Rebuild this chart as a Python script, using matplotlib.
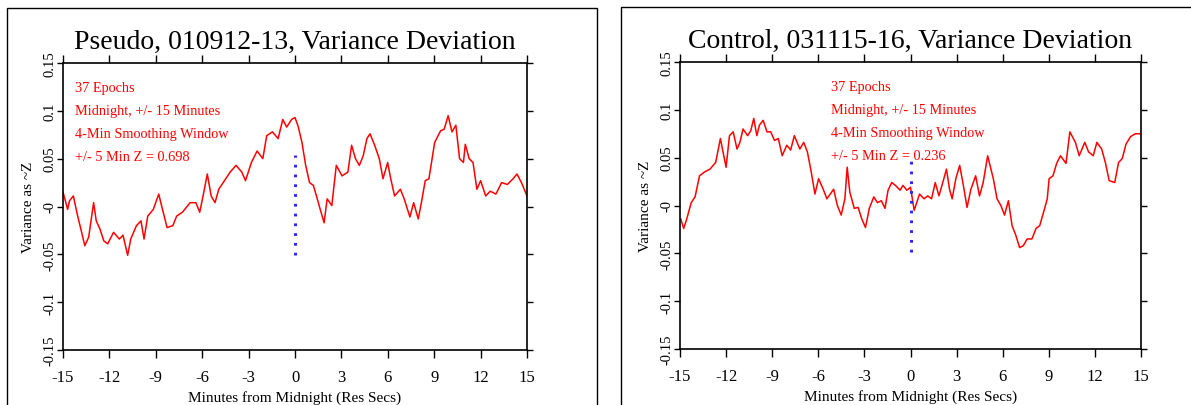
import matplotlib
matplotlib.use("Agg")
import matplotlib.pyplot as plt
from matplotlib.patches import Rectangle

plt.rcParams['font.family'] = ['Liberation Serif', 'DejaVu Serif']

# minutes from midnight / variance as ~Z
pseudo_x = [-15.0, -14.7, -14.58, -14.33, -14.08, -13.84, -13.59, -13.34, -13.02, -12.85,
            -12.6, -12.36, -12.11, -11.73, -11.36, -11.12, -10.82, -10.62, -10.25, -9.96,
            -9.76, -9.52, -9.16, -8.81, -8.57, -8.27, -7.9, -7.65, -7.28, -6.78,
            -6.41, -6.16, -5.92, -5.67, -5.42, -5.17, -4.93, -4.56, -4.19, -3.81,
            -3.44, -3.2, -2.82, -2.45, -2.08, -1.83, -1.46, -1.09, -0.79, -0.54,
            -0.22, 0.0, 0.2, 0.45, 0.69, 0.94, 1.19, 1.44, 1.63, 1.88,
            2.08, 2.38, 2.67, 3.04, 3.42, 3.66, 3.91, 4.16, 4.41, 4.65,
            4.85, 5.15, 5.45, 5.69, 5.99, 6.19, 6.44, 6.81, 7.06, 7.43,
            7.67, 7.97, 8.17, 8.42, 8.66, 9.03, 9.41, 9.65, 9.9, 10.15,
            10.4, 10.64, 10.89, 11.01, 11.26, 11.51, 11.76, 12.0, 12.33, 12.62,
            12.99, 13.36, 13.73, 14.1, 14.35, 14.67, 15.0]
pseudo_y = [0.015, -0.003, 0.006, 0.011, -0.008, -0.024, -0.041, -0.032, 0.004, -0.015,
            -0.024, -0.036, -0.039, -0.027, -0.034, -0.030, -0.051, -0.034, -0.020, -0.015,
            -0.034, -0.010, -0.003, 0.013, -0.003, -0.022, -0.020, -0.010, -0.006, 0.004,
            0.004, -0.006, 0.013, 0.034, 0.011, 0.004, 0.018, 0.027, 0.036, 0.043,
            0.036, 0.027, 0.046, 0.058, 0.050, 0.074, 0.078, 0.071, 0.091, 0.083,
            0.091, 0.093, 0.084, 0.067, 0.043, 0.025, 0.022, 0.008, -0.003, -0.017,
            0.008, 0.001, 0.043, 0.032, 0.036, 0.064, 0.050, 0.043, 0.053, 0.071,
            0.076, 0.064, 0.050, 0.029, 0.046, 0.029, 0.011, 0.018, 0.008, -0.011,
            0.004, -0.013, 0.004, 0.027, 0.029, 0.067, 0.079, 0.081, 0.095, 0.078,
            0.085, 0.050, 0.046, 0.065, 0.050, 0.046, 0.018, 0.027, 0.011, 0.016,
            0.013, 0.025, 0.023, 0.029, 0.034, 0.024, 0.011]

control_x = [-14.95, -14.76, -14.56, -14.27, -14.02, -13.73, -13.41, -13.05, -12.68, -12.37,
             -12.2, -12.0, -11.78, -11.54, -11.29, -11.1, -10.9, -10.6, -10.4, -10.2,
             -10.0, -9.83, -9.59, -9.34, -9.1, -8.85, -8.6, -8.35, -8.05, -7.8,
             -7.56, -7.2, -6.95, -6.71, -6.46, -6.22, -5.98, -5.68, -5.44, -5.0,
             -4.76, -4.51, -4.27, -4.12, -3.95, -3.66, -3.41, -3.17, -2.93, -2.68,
             -2.39, -2.15, -1.9, -1.66, -1.46, -1.22, -0.98, -0.68, -0.49, -0.24,
             0.0, 0.24, 0.59, 0.88, 1.12, 1.37, 1.61, 1.85, 2.1, 2.34,
             2.54, 2.71, 2.95, 3.2, 3.44, 3.68, 3.93, 4.24, 4.49, 4.73,
             5.02, 5.39, 5.63, 5.88, 6.12, 6.37, 6.61, 6.85, 7.1, 7.34,
             7.59, 7.9, 8.17, 8.41, 8.66, 8.9, 9.02, 9.27, 9.51, 9.76,
             10.12, 10.37, 10.73, 10.98, 11.34, 11.59, 11.89, 12.13, 12.44, 12.68,
             12.93, 13.29, 13.54, 13.78, 14.02, 14.32, 14.63, 15.0]
control_y = [-0.014, -0.024, -0.014, 0.003, 0.009, 0.031, 0.035, 0.038, 0.045, 0.070,
             0.056, 0.040, 0.073, 0.077, 0.059, 0.066, 0.080, 0.073, 0.078, 0.091,
             0.073, 0.084, 0.089, 0.077, 0.077, 0.068, 0.070, 0.052, 0.063, 0.058,
             0.073, 0.059, 0.066, 0.056, 0.035, 0.012, 0.028, 0.017, 0.007, 0.017,
             0.000, -0.010, 0.007, 0.040, 0.014, -0.003, -0.002, -0.014, -0.023, -0.003,
             0.009, 0.003, 0.005, -0.003, 0.016, 0.024, 0.021, 0.016, 0.021, 0.016,
             0.019, -0.005, 0.012, 0.007, 0.010, 0.007, 0.024, 0.010, 0.024, 0.038,
             0.017, 0.007, 0.028, 0.042, 0.021, -0.002, 0.017, 0.031, 0.010, 0.024,
             0.052, 0.028, 0.007, 0.000, -0.010, 0.005, -0.021, -0.031, -0.044, -0.042,
             -0.035, -0.035, -0.024, -0.021, -0.007, 0.007, 0.028, 0.031, 0.044, 0.052,
             0.044, 0.077, 0.066, 0.052, 0.066, 0.056, 0.052, 0.066, 0.059, 0.045,
             0.026, 0.024, 0.045, 0.049, 0.064, 0.072, 0.075, 0.075]

pseudo_notes = ["37 Epochs", "Midnight, +/- 15 Minutes",
                "4-Min Smoothing Window", "+/- 5 Min Z = 0.698"]
control_notes = ["37 Epochs", "Midnight, +/- 15 Minutes",
                 "4-Min Smoothing Window", "+/- 5 Min Z = 0.236"]
note_y = [0.124, 0.1, 0.076, 0.052]

marker_top = [0.054, 0.052]
marker_bottom = [-0.051, -0.049]

x_ticks = [-15, -12, -9, -6, -3, 0, 3, 6, 9, 12, 15]
y_ticks = [0.15, 0.1, 0.05, 0.0, -0.05, -0.1, -0.15]
y_labels = ["0.15", "0.1", "0.05", "-0", "-0.05", "-0.1", "-0.15"]


def panel(ax, x, y, title, notes, note_x, mtop, mbot):
    ax.plot(x, y, color="red", lw=1.1)
    ax.plot([0, 0], [mbot, mtop], color="#2a2aff", lw=2.2,
            linestyle=(0, (0.9, 2.3)))
    ax.set_xlim(-15, 15)
    ax.set_ylim(-0.15, 0.15)
    ax.set_xticks(x_ticks)
    ax.set_xticklabels([str(t) for t in x_ticks], fontsize=12)
    ax.set_yticks(y_ticks)
    ax.set_yticklabels(y_labels, fontsize=10.5, rotation=90, va="center")
    ax.tick_params(axis="x", direction="out", length=6, width=1, top=True,
                   pad=8)
    ax.tick_params(axis="y", direction="out", length=4, width=1, right=True,
                   pad=1)
    for s in ax.spines.values():
        s.set_linewidth(1.2)
    ax.set_title(title, fontsize=20, pad=11)
    ax.set_xlabel("Minutes from Midnight (Res Secs)", fontsize=11, labelpad=3)
    ax.set_ylabel("Variance as ~Z", fontsize=11, labelpad=6)
    for t, ny in zip(notes, note_y):
        ax.text(note_x, ny, t, color="red", fontsize=10.3, va="center")


fig = plt.figure(figsize=(11.91, 4.06), dpi=100)
ax1 = fig.add_axes([63 / 1191, 55 / 406, 464 / 1191, 287 / 406])
ax2 = fig.add_axes([680 / 1191, 56 / 406, 461 / 1191, 287 / 406])

panel(ax1, pseudo_x, pseudo_y, "Pseudo, 010912-13, Variance Deviation",
      pseudo_notes, -14.2, marker_top[0], marker_bottom[0])
panel(ax2, control_x, control_y, "Control, 031115-16, Variance Deviation",
      control_notes, -5.15, marker_top[1], marker_bottom[1])

# frames round each panel
fig.patches.append(Rectangle((7 / 1191, -0.1), 590 / 1191, 1.1 - 9 / 406,
                             transform=fig.transFigure, fill=False,
                             edgecolor="black", lw=1.0))
fig.patches.append(Rectangle((621 / 1191, -0.1), 0.6, 1.1 - 8 / 406,
                             transform=fig.transFigure, fill=False,
                             edgecolor="black", lw=1.0))

fig.savefig("out.png", dpi=100)
